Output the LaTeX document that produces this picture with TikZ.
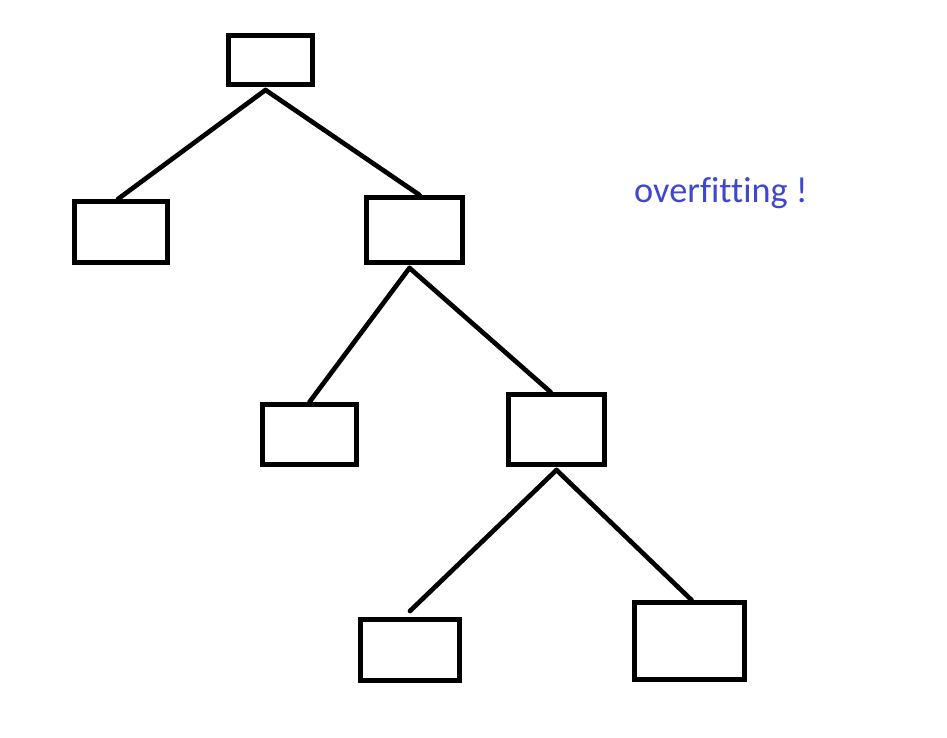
\documentclass[tikz,border=0pt]{standalone}
\usepackage{fontspec}
\usepackage{xcolor}
\usepackage{tikz}
\usetikzlibrary{positioning}
\newfontfamily\notefont{Carlito}[Ligatures=NoCommon]
\definecolor{notecolor}{HTML}{3F48CC}

\begin{document}
\begin{tikzpicture}[
    x=0.03cm, y=-0.03cm,
    leafbox/.style args={#1x#2}{rectangle, draw=black, line width=0.15cm, minimum width=#1*0.03cm, minimum height=#2*0.03cm, inner sep=0pt},
    edge/.style={draw=black, line width=0.14cm, line cap=round},
    notelabel/.style={font=\notefont\fontsize{31}{36}\selectfont, text=notecolor, inner sep=0pt, anchor=base west}
]
\useasboundingbox (0,0) rectangle (947,738);

% Tree boxes
\node[leafbox=84x49] (root) at (270.5,60) {};
\node[leafbox=93x61] (left) at (121,232) {};
\node[leafbox=96x65] (right) at (414.5,230) {};
\node[leafbox=94x60] (rleft) at (309.5,434.5) {};
\node[leafbox=96x70] (rright) at (556.5,429.5) {};
\node[leafbox=99x61] (rrleft) at (410,650) {};
\node[leafbox=110x77] (rrright) at (689.5,641) {};

% Branches
\draw[edge] ([shift={(-5,3)}]root.south) -- ([shift={(-3,0)}]left.north);
\draw[edge] ([shift={(-5,3)}]root.south) -- ([shift={(5,0)}]right.north);
\draw[edge] ([shift={(-5,3)}]right.south) -- (rleft.north);
\draw[edge] ([shift={(-5,3)}]right.south) -- ([shift={(-6,0)}]rright.north);
\draw[edge] ([shift={(0,3)}]rright.south) -- ([shift={(0,-6)}]rrleft.north);
\draw[edge] ([shift={(0,3)}]rright.south) -- ([shift={(2,0)}]rrright.north);

% Note
\node[notelabel] (note) at (634,203) {overfitting !};

\end{tikzpicture}
\end{document}
